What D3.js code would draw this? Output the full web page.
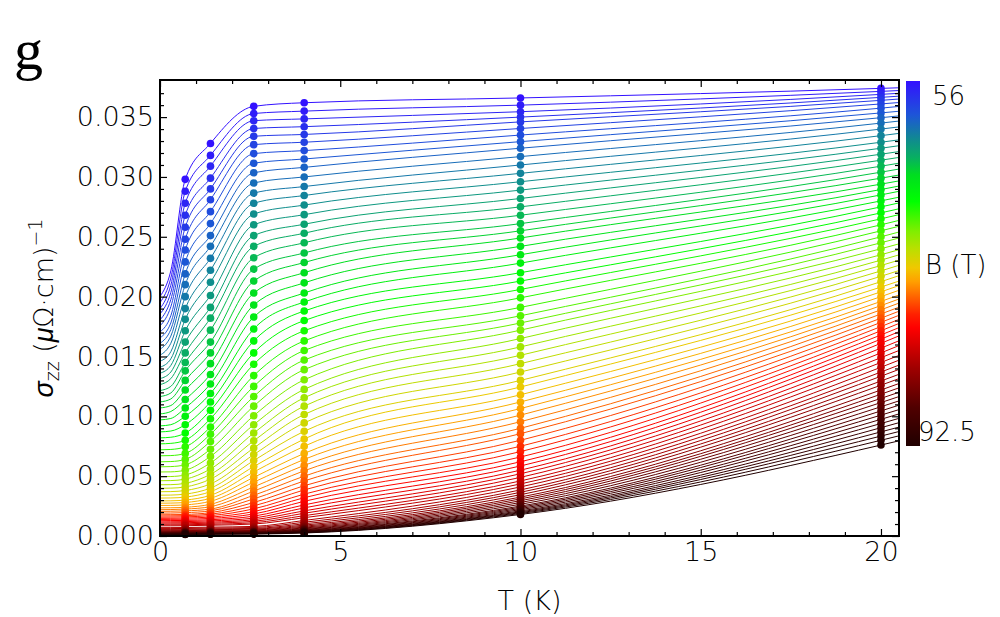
<!DOCTYPE html>
<html>
<head>
<meta charset="utf-8">
<script src="https://cdn.jsdelivr.net/npm/d3@7/dist/d3.min.js"></script>
<style>
    body { margin: 0; background: #fff; }
    text { font-family: "DejaVu Sans", sans-serif; font-weight: 200; }
</style>
</head>
<body>
<div id="chart"></div>
<script>
// magnetic field of each curve (T), top (blue) to bottom (black)
const fields = [
    56, 56.5, 57, 57.5, 58, 58.5, 59, 59.5, 60, 60.5,
    61, 61.5, 62, 62.5, 63, 63.5, 64, 64.5, 65, 65.5,
    66, 66.5, 67, 67.5, 68, 68.5, 69, 69.5, 70, 70.5,
    71, 71.5, 72, 72.5, 73, 73.5, 74, 74.5, 75, 75.5,
    76, 76.5, 77, 77.5, 78, 78.5, 79, 79.5, 80, 80.5,
    81, 81.5, 82, 82.5, 83, 83.5, 84, 84.5, 85, 85.5,
    86, 86.5, 87, 87.5, 88, 88.5, 89, 89.5, 90, 90.5,
    91, 91.5, 92, 92.5
];

// measured temperatures (K)
const temps = [0.7, 1.4, 2.6, 4, 10, 20];

// all conductivities below in units of 1e-3 (uOhm cm)^-1, one value per field

// measured points
const sig07 = [
    29.8, 28.8, 27.8, 26.8, 25.8, 24.8, 23.9, 22.9, 21.9, 21.0,
    20.0, 19.0, 18.1, 17.15, 16.2, 15.3, 14.5, 13.8, 13.0, 12.2,
    11.4, 10.7, 10.0, 9.3, 8.6, 8.0, 7.45, 6.9, 6.4, 5.95,
    5.5, 5.1, 4.75, 4.4, 4.1, 3.8, 3.5, 3.25, 3.0, 2.8,
    2.6, 2.4, 2.25, 2.1, 1.95, 1.8, 1.7, 1.6, 1.5, 1.4,
    1.3, 1.2, 1.11, 1.02, 0.94, 0.86, 0.71, 0.63, 0.56, 0.5,
    0.45, 0.41, 0.37, 0.34, 0.31, 0.28, 0.26, 0.24, 0.22, 0.2,
    0.18, 0.16, 0.14, 0.12
];
const sig14 = [
    32.8, 31.8, 30.9, 29.9, 29.0, 28.1, 27.1, 26.1, 25.1, 24.2,
    23.2, 22.2, 21.2, 20.1, 19.1, 18.2, 17.2, 16.2, 15.3, 14.4,
    13.5, 12.7, 11.9, 11.2, 10.5, 9.8, 9.1, 8.5, 7.9, 7.25,
    6.65, 6.1, 5.6, 5.15, 4.75, 4.35, 4.0, 3.7, 3.4, 3.15,
    2.9, 2.65, 2.45, 2.25, 2.1, 1.95, 1.82, 1.7, 1.58, 1.47,
    1.36, 1.26, 1.16, 1.07, 0.98, 0.9, 0.74, 0.66, 0.59, 0.53,
    0.48, 0.43, 0.39, 0.36, 0.33, 0.3, 0.28, 0.26, 0.24, 0.22,
    0.2, 0.18, 0.16, 0.14
];
const sig26 = [
    35.9, 35.3, 34.7, 34.05, 33.4, 32.7, 31.95, 31.15, 30.35, 29.5,
    28.65, 27.8, 26.9, 26.0, 25.1, 24.2, 23.25, 22.3, 21.3, 20.3,
    19.3, 18.3, 17.3, 16.3, 15.3, 14.35, 13.4, 12.5, 11.65, 10.85,
    10.05, 9.3, 8.6, 7.95, 7.35, 6.8, 6.3, 5.8, 5.35, 4.9,
    4.5, 4.1, 3.75, 3.4, 3.1, 2.8, 2.52, 2.27, 2.04, 1.84,
    1.66, 1.5, 1.36, 1.23, 1.11, 1.0, 0.8, 0.71, 0.63, 0.57,
    0.51, 0.46, 0.42, 0.38, 0.35, 0.32, 0.3, 0.28, 0.26, 0.24,
    0.22, 0.2, 0.18, 0.16
];
const sig40 = [
    36.2, 35.5, 34.85, 34.2, 33.55, 32.9, 32.2, 31.5, 30.8, 30.0,
    29.2, 28.45, 27.65, 26.85, 26.05, 25.3, 24.5, 23.65, 22.85, 22.0,
    21.15, 20.3, 19.55, 18.8, 18.0, 17.15, 16.3, 15.5, 14.7, 13.9,
    13.05, 12.25, 11.55, 10.85, 10.15, 9.45, 8.75, 8.1, 7.5, 6.9,
    6.4, 5.9, 5.45, 5.0, 4.6, 4.2, 3.85, 3.5, 3.2, 2.9,
    2.6, 2.35, 2.1, 1.9, 1.7, 1.53, 1.3, 1.15, 1.02, 0.91,
    0.82, 0.74, 0.67, 0.61, 0.56, 0.51, 0.47, 0.43, 0.4, 0.37,
    0.34, 0.31, 0.28, 0.25
];
const sig10 = [
    36.6, 36.0, 35.45, 35.0, 34.6, 34.05, 33.5, 32.95, 32.4, 31.7,
    31.0, 30.3, 29.6, 28.9, 28.2, 27.5, 26.8, 26.1, 25.5, 24.9,
    24.2, 23.5, 22.8, 22.0, 21.3, 20.6, 19.9, 19.1, 18.4, 17.8,
    17.2, 16.5, 15.8, 15.1, 14.4, 13.7, 13.0, 12.45, 11.8, 11.2,
    10.65, 10.1, 9.55, 9.0, 8.55, 8.0, 7.5, 7.05, 6.6, 6.2,
    5.85, 5.5, 5.2, 4.9, 4.6, 4.35, 4.1, 3.85, 3.65, 3.45,
    3.25, 3.1, 2.95, 2.8, 2.65, 2.5, 2.4, 2.3, 2.2, 2.1,
    2.02, 1.95, 1.88, 1.8
];
const sig20 = [
    37.4, 37.15, 36.9, 36.65, 36.4, 36.1, 35.75, 35.35, 34.95, 34.5,
    34.0, 33.45, 32.9, 32.4, 31.9, 31.4, 30.9, 30.4, 29.9, 29.4,
    28.95, 28.5, 28.0, 27.5, 27.0, 26.5, 26.0, 25.5, 25.0, 24.5,
    24.0, 23.5, 23.05, 22.6, 22.15, 21.7, 21.25, 20.8, 20.4, 20.0,
    19.6, 19.25, 18.9, 18.55, 18.2, 17.85, 17.5, 17.15, 16.8, 16.45,
    16.1, 15.7, 15.3, 14.9, 14.5, 14.1, 13.7, 13.35, 12.95, 12.6,
    12.2, 11.85, 11.5, 11.15, 10.8, 10.45, 10.1, 9.75, 9.4, 9.05,
    8.7, 8.35, 8.0, 7.6
];

// fit curves read at the plot edges and just above T = 0
const fit00 = [
    20.0, 19.5, 19.0, 18.55, 18.05, 17.55, 17.05, 16.55, 16.1, 15.6,
    15.1, 14.6, 14.1, 13.6, 13.15, 12.65, 12.15, 11.65, 11.2, 10.7,
    10.2, 9.7, 9.2, 8.7, 8.2, 7.7, 7.2, 6.7, 6.2, 5.78,
    5.35, 4.96, 4.62, 4.28, 3.99, 3.7, 3.41, 3.17, 2.93, 2.74,
    2.55, 2.35, 2.2, 2.06, 1.91, 1.77, 1.67, 1.57, 1.47, 1.38,
    1.28, 1.18, 1.09, 1.0, 0.93, 0.85, 0.7, 0.62, 0.55, 0.49,
    0.44, 0.4, 0.36, 0.33, 0.3, 0.27, 0.25, 0.23, 0.21, 0.19,
    0.17, 0.15, 0.13, 0.11
];
const fit03 = [
    22.15, 21.55, 20.95, 20.35, 19.75, 19.15, 18.4, 17.8, 17.25, 16.7,
    16.1, 15.4, 14.8, 14.25, 13.7, 13.15, 12.5, 11.95, 11.45, 10.9,
    10.4, 9.82, 9.3, 8.77, 8.25, 7.74, 7.23, 6.72, 6.22, 5.8,
    5.36, 4.97, 4.63, 4.29, 4.0, 3.71, 3.42, 3.18, 2.94, 2.75,
    2.56, 2.36, 2.21, 2.07, 1.92, 1.78, 1.68, 1.58, 1.48, 1.39,
    1.29, 1.19, 1.1, 1.01, 0.93, 0.85, 0.7, 0.62, 0.55, 0.49,
    0.44, 0.4, 0.36, 0.33, 0.3, 0.27, 0.25, 0.23, 0.21, 0.19,
    0.17, 0.15, 0.13, 0.11
];
const fitEnd = [
    37.45, 37.22, 36.99, 36.75, 36.51, 36.22, 35.89, 35.49, 35.1, 34.67,
    34.18, 33.64, 33.1, 32.61, 32.12, 31.63, 31.15, 30.66, 30.16, 29.67,
    29.24, 28.8, 28.31, 27.83, 27.34, 26.85, 26.37, 25.88, 25.4, 24.9,
    24.41, 23.92, 23.49, 23.05, 22.62, 22.18, 21.75, 21.3, 20.92, 20.53,
    20.14, 19.8, 19.46, 19.12, 18.78, 18.44, 18.1, 17.76, 17.41, 17.07,
    16.72, 16.31, 15.91, 15.5, 15.09, 14.69, 14.28, 13.92, 13.51, 13.15,
    12.74, 12.38, 12.01, 11.65, 11.29, 10.93, 10.56, 10.2, 9.83, 9.47,
    9.1, 8.73, 8.37, 7.95
];
const fitTemps = [0, 0.3, 0.7, 1.4, 2.6, 4, 10, 20, 20.5];

const xTicks = [0, 5, 10, 15, 20];
const yTicks = [0, 0.005, 0.010, 0.015, 0.020, 0.025, 0.030, 0.035];

// colour scale of the field
const colorStops = [0, 0.093, 0.166, 0.211, 0.257, 0.33, 0.412, 0.458, 0.512, 0.549, 0.594, 0.64, 0.676, 0.786, 0.895, 1];
const colorList = ["#3311ff", "#1d55d8", "#0f8f8a", "#08b060", "#00dd20", "#00ff00", "#80ee00", "#b8e000",
    "#f0c800", "#ffa000", "#ff6000", "#ff2000", "#ff0000", "#a00000", "#500000", "#200000"];

SigmaPlot = function(_parentElement) {
    this.parentElement = _parentElement;
    this.initVis();
}

SigmaPlot.prototype.initVis = function() {
    let vis = this;

    vis.width = 1000;
    vis.height = 617;
    vis.plot = { left: 160, right: 899, top: 80, bottom: 536 };

    vis.svg = d3.select("#" + vis.parentElement)
        .append("svg")
        .attr("width", vis.width)
        .attr("height", vis.height);

    vis.x = d3.scaleLinear()
        .domain([0, 20.5])
        .range([vis.plot.left, vis.plot.right]);

    vis.y = d3.scaleLinear()
        .domain([0, 0.0381])
        .range([vis.plot.bottom, vis.plot.top]);

    vis.frac = d3.scaleLinear()
        .domain([fields[0], fields[fields.length - 1]])
        .range([0, 1]);

    vis.colorMap = d3.scaleLinear()
        .domain(colorStops)
        .range(colorList)
        .interpolate(d3.interpolateRgb);

    vis.color = (b) => vis.colorMap(vis.frac(b));

    vis.drawCurves();
    vis.drawAxes();
    vis.drawLegend();
}

SigmaPlot.prototype.drawCurves = function() {
    let vis = this;

    const fitCols = [fit00, fit03, sig07, sig14, sig26, sig40, sig10, sig20, fitEnd];
    const dataCols = [sig07, sig14, sig26, sig40, sig10, sig20];

    const line = d3.line()
        .x((d) => vis.x(d[0]))
        .y((d) => vis.y(d[1] / 1000))
        .curve(d3.curveMonotoneX);

    vis.svg.append("g")
        .selectAll("path")
        .data(fields)
        .enter()
        .append("path")
        .attr("d", (b, i) => line(fitTemps.map((t, k) => [t, fitCols[k][i]])))
        .attr("fill", "none")
        .attr("stroke", (b) => vis.color(b))
        .attr("stroke-width", 1);

    let points = [];
    temps.forEach(function(t, k) {
        fields.forEach(function(b, i) {
            points.push({ t: t, b: b, s: dataCols[k][i] });
        });
    });

    vis.svg.append("g")
        .selectAll("circle")
        .data(points)
        .enter()
        .append("circle")
        .attr("cx", (d) => vis.x(d.t))
        .attr("cy", (d) => vis.y(d.s / 1000))
        .attr("r", 3.8)
        .attr("fill", (d) => vis.color(d.b));
}

SigmaPlot.prototype.drawAxes = function() {
    let vis = this;

    const xMinor = d3.range(0, 21, 1).filter((d) => d % 5 != 0);
    const yMinor = d3.range(0, 38, 1).filter((d) => d % 5 != 0).map((d) => d / 1000);

    function tickAxis(axis, scale, values, size, fmt) {
        return axis(scale)
            .tickValues(values)
            .tickSizeInner(-size)
            .tickSizeOuter(0)
            .tickPadding(6)
            .tickFormat(fmt);
    }

    const specs = [
        { axis: d3.axisBottom, scale: vis.x, at: "translate(0," + vis.plot.bottom + ")", major: xTicks, minor: xMinor, fmt: d3.format("d") },
        { axis: d3.axisTop, scale: vis.x, at: "translate(0," + vis.plot.top + ")", major: xTicks, minor: xMinor, fmt: null },
        { axis: d3.axisLeft, scale: vis.y, at: "translate(" + vis.plot.left + ",0)", major: yTicks, minor: yMinor, fmt: d3.format(".3f") },
        { axis: d3.axisRight, scale: vis.y, at: "translate(" + vis.plot.right + ",0)", major: yTicks, minor: yMinor, fmt: null }
    ];

    specs.forEach(function(s) {
        const g = vis.svg.append("g").attr("transform", s.at);
        g.call(tickAxis(s.axis, s.scale, s.major, 7, s.fmt || (() => "")));
        g.append("g").call(tickAxis(s.axis, s.scale, s.minor, 4, () => ""));
        g.selectAll(".domain").remove();
        g.selectAll("line").attr("stroke", "#000").attr("stroke-width", 1.2);
        g.selectAll("text")
            .attr("fill", "#000")
            .style("font-size", "27px")
            .style("font-family", "'DejaVu Sans', sans-serif")
            .style("font-weight", 200);
    });

    vis.svg.append("rect")
        .attr("x", vis.plot.left)
        .attr("y", vis.plot.top)
        .attr("width", vis.plot.right - vis.plot.left)
        .attr("height", vis.plot.bottom - vis.plot.top)
        .attr("fill", "none")
        .attr("stroke", "#000")
        .attr("stroke-width", 2);

    // x label
    vis.svg.append("text")
        .attr("x", (vis.plot.left + vis.plot.right) / 2)
        .attr("y", 610)
        .attr("text-anchor", "middle")
        .style("font-size", "27px")
        .text("T (K)");

    // y label
    const yl = vis.svg.append("text")
        .attr("transform", "translate(53," + (vis.plot.top + vis.plot.bottom) / 2 + ") rotate(-90)")
        .attr("text-anchor", "middle")
        .style("font-size", "27px");
    yl.append("tspan")
        .style("font-family", "'Liberation Sans', sans-serif")
        .style("font-style", "italic").style("font-weight", 400)
        .text("σ");
    yl.append("tspan").attr("dy", 6).style("font-size", "19px").text("zz");
    yl.append("tspan").attr("dy", -6).text(" (");
    yl.append("tspan")
        .style("font-family", "'Liberation Sans', sans-serif")
        .style("font-style", "italic").style("font-weight", 400)
        .text("μ");
    yl.append("tspan").text("Ω·cm)");
    yl.append("tspan").attr("dy", -11).style("font-size", "19px").text("−1");

    // panel letter
    vis.svg.append("text")
        .attr("x", 14)
        .attr("y", 69)
        .style("font-family", "'Liberation Serif', 'Times New Roman', serif")
        .style("font-weight", 400)
        .style("font-size", "58px")
        .text("g");
}

SigmaPlot.prototype.drawLegend = function() {
    let vis = this;

    const bar = { x: 906, y: 81, w: 14, h: 365 };

    const grad = vis.svg.append("defs")
        .append("linearGradient")
        .attr("id", "field-grad")
        .attr("x1", 0).attr("y1", 0)
        .attr("x2", 0).attr("y2", 1);

    grad.selectAll("stop")
        .data(colorStops)
        .enter()
        .append("stop")
        .attr("offset", (d) => d)
        .attr("stop-color", (d, i) => colorList[i]);

    vis.svg.append("rect")
        .attr("x", bar.x)
        .attr("y", bar.y)
        .attr("width", bar.w)
        .attr("height", bar.h)
        .attr("fill", "url(#field-grad)");

    const labels = [
        { text: String(fields[0]), x: 932, y: 105 },
        { text: "B (T)", x: 925, y: 274 },
        { text: String(fields[fields.length - 1]), x: 918, y: 441 }
    ];

    vis.svg.selectAll(".bar-label")
        .data(labels)
        .enter()
        .append("text")
        .attr("class", "bar-label")
        .attr("x", (d) => d.x)
        .attr("y", (d) => d.y)
        .style("font-size", "26px")
        .text((d) => d.text);
}

new SigmaPlot("chart");
</script>
</body>
</html>
